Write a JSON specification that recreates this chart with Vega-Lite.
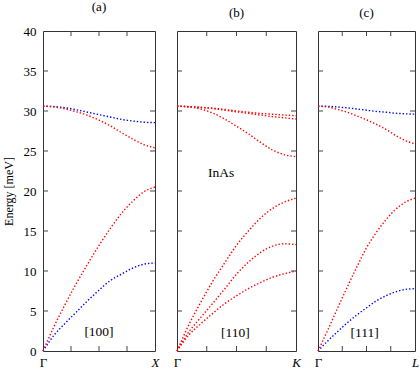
{
  "$schema": "https://vega.github.io/schema/vega-lite/v6.json",
  "padding": {"left": 1, "top": 0, "right": 0, "bottom": 0},
  "background": "white",
  "spacing": 22,
  "bounds": "flush",
  "config": {
    "font": "Liberation Serif",
    "view": {"stroke": "#333", "strokeWidth": 1},
    "axis": {
      "domain": false, "grid": false, "ticks": false,
      "labelFont": "Liberation Serif", "labelFontSize": 13, "labelColor": "#000",
      "titleFont": "Liberation Serif", "titleFontSize": 12, "titleFontWeight": "normal", "titleColor": "#000",
      "labelOverlap": false, "labelFlush": false
    },
    "rule": {"color": "#444", "strokeWidth": 1},
    "title": {"font": "Liberation Serif", "fontSize": 13, "fontWeight": "normal", "anchor": "middle", "offset": 11}
  },
  "datasets": {
    "xt": [{"t":0.25},{"t":0.5},{"t":0.75}],
    "yt": [{"E":5},{"E":10},{"E":15},{"E":20},{"E":25},{"E":30},{"E":35}],
    "a": [
      {"b":"TA","c":"blue","t":0,"E":0},{"b":"TA","c":"blue","t":0.1,"E":2.0},{"b":"TA","c":"blue","t":0.2,"E":3.5},{"b":"TA","c":"blue","t":0.3,"E":4.9},{"b":"TA","c":"blue","t":0.4,"E":6.3},{"b":"TA","c":"blue","t":0.5,"E":7.6},{"b":"TA","c":"blue","t":0.6,"E":8.8},{"b":"TA","c":"blue","t":0.7,"E":9.6},{"b":"TA","c":"blue","t":0.8,"E":10.35},{"b":"TA","c":"blue","t":0.9,"E":10.85},{"b":"TA","c":"blue","t":1,"E":11.0},
      {"b":"LA","c":"red","t":0,"E":0},{"b":"LA","c":"red","t":0.1,"E":3.1},{"b":"LA","c":"red","t":0.2,"E":5.9},{"b":"LA","c":"red","t":0.3,"E":8.5},{"b":"LA","c":"red","t":0.4,"E":10.9},{"b":"LA","c":"red","t":0.5,"E":13.2},{"b":"LA","c":"red","t":0.6,"E":15.3},{"b":"LA","c":"red","t":0.7,"E":17.2},{"b":"LA","c":"red","t":0.8,"E":18.7},{"b":"LA","c":"red","t":0.9,"E":19.9},{"b":"LA","c":"red","t":1,"E":20.5},
      {"b":"TO","c":"blue","t":0,"E":30.6},{"b":"TO","c":"blue","t":0.1,"E":30.55},{"b":"TO","c":"blue","t":0.2,"E":30.4},{"b":"TO","c":"blue","t":0.3,"E":30.15},{"b":"TO","c":"blue","t":0.4,"E":29.85},{"b":"TO","c":"blue","t":0.5,"E":29.55},{"b":"TO","c":"blue","t":0.6,"E":29.25},{"b":"TO","c":"blue","t":0.7,"E":28.95},{"b":"TO","c":"blue","t":0.8,"E":28.75},{"b":"TO","c":"blue","t":0.9,"E":28.6},{"b":"TO","c":"blue","t":1,"E":28.55},
      {"b":"LO","c":"red","t":0,"E":30.6},{"b":"LO","c":"red","t":0.1,"E":30.5},{"b":"LO","c":"red","t":0.2,"E":30.25},{"b":"LO","c":"red","t":0.3,"E":29.9},{"b":"LO","c":"red","t":0.4,"E":29.45},{"b":"LO","c":"red","t":0.5,"E":28.85},{"b":"LO","c":"red","t":0.6,"E":28.15},{"b":"LO","c":"red","t":0.7,"E":27.3},{"b":"LO","c":"red","t":0.8,"E":26.5},{"b":"LO","c":"red","t":0.9,"E":25.8},{"b":"LO","c":"red","t":1,"E":25.4}
    ],
    "b": [
      {"b":"TA1","c":"red","t":0,"E":0},{"b":"TA1","c":"red","t":0.1,"E":2.0},{"b":"TA1","c":"red","t":0.2,"E":3.4},{"b":"TA1","c":"red","t":0.3,"E":4.7},{"b":"TA1","c":"red","t":0.4,"E":5.9},{"b":"TA1","c":"red","t":0.5,"E":6.9},{"b":"TA1","c":"red","t":0.6,"E":7.8},{"b":"TA1","c":"red","t":0.7,"E":8.55},{"b":"TA1","c":"red","t":0.8,"E":9.2},{"b":"TA1","c":"red","t":0.9,"E":9.65},{"b":"TA1","c":"red","t":1,"E":10.0},
      {"b":"TA2","c":"red","t":0,"E":0},{"b":"TA2","c":"red","t":0.1,"E":2.4},{"b":"TA2","c":"red","t":0.2,"E":4.2},{"b":"TA2","c":"red","t":0.3,"E":5.95},{"b":"TA2","c":"red","t":0.4,"E":7.75},{"b":"TA2","c":"red","t":0.5,"E":9.6},{"b":"TA2","c":"red","t":0.6,"E":11.1},{"b":"TA2","c":"red","t":0.7,"E":12.3},{"b":"TA2","c":"red","t":0.8,"E":13.1},{"b":"TA2","c":"red","t":0.9,"E":13.4},{"b":"TA2","c":"red","t":1,"E":13.3},
      {"b":"LA","c":"red","t":0,"E":0},{"b":"LA","c":"red","t":0.1,"E":3.3},{"b":"LA","c":"red","t":0.2,"E":6.1},{"b":"LA","c":"red","t":0.3,"E":8.7},{"b":"LA","c":"red","t":0.4,"E":11.0},{"b":"LA","c":"red","t":0.5,"E":13.2},{"b":"LA","c":"red","t":0.6,"E":15.0},{"b":"LA","c":"red","t":0.7,"E":16.6},{"b":"LA","c":"red","t":0.8,"E":17.8},{"b":"LA","c":"red","t":0.9,"E":18.6},{"b":"LA","c":"red","t":1,"E":19.1},
      {"b":"TO1","c":"red","t":0,"E":30.6},{"b":"TO1","c":"red","t":0.1,"E":30.55},{"b":"TO1","c":"red","t":0.2,"E":30.45},{"b":"TO1","c":"red","t":0.3,"E":30.35},{"b":"TO1","c":"red","t":0.4,"E":30.2},{"b":"TO1","c":"red","t":0.5,"E":30.0},{"b":"TO1","c":"red","t":0.6,"E":29.85},{"b":"TO1","c":"red","t":0.7,"E":29.7},{"b":"TO1","c":"red","t":0.8,"E":29.6},{"b":"TO1","c":"red","t":0.9,"E":29.5},{"b":"TO1","c":"red","t":1,"E":29.4},
      {"b":"TO2","c":"red","t":0,"E":30.6},{"b":"TO2","c":"red","t":0.1,"E":30.55},{"b":"TO2","c":"red","t":0.2,"E":30.45},{"b":"TO2","c":"red","t":0.3,"E":30.3},{"b":"TO2","c":"red","t":0.4,"E":30.1},{"b":"TO2","c":"red","t":0.5,"E":29.9},{"b":"TO2","c":"red","t":0.6,"E":29.7},{"b":"TO2","c":"red","t":0.7,"E":29.5},{"b":"TO2","c":"red","t":0.8,"E":29.3},{"b":"TO2","c":"red","t":0.9,"E":29.15},{"b":"TO2","c":"red","t":1,"E":29.0},
      {"b":"LO","c":"red","t":0,"E":30.6},{"b":"LO","c":"red","t":0.1,"E":30.5},{"b":"LO","c":"red","t":0.2,"E":30.25},{"b":"LO","c":"red","t":0.3,"E":29.75},{"b":"LO","c":"red","t":0.4,"E":29.0},{"b":"LO","c":"red","t":0.5,"E":28.1},{"b":"LO","c":"red","t":0.6,"E":27.15},{"b":"LO","c":"red","t":0.7,"E":26.1},{"b":"LO","c":"red","t":0.8,"E":25.15},{"b":"LO","c":"red","t":0.9,"E":24.55},{"b":"LO","c":"red","t":1,"E":24.3}
    ],
    "c": [
      {"b":"TA","c":"blue","t":0,"E":0},{"b":"TA","c":"blue","t":0.1,"E":1.25},{"b":"TA","c":"blue","t":0.2,"E":2.4},{"b":"TA","c":"blue","t":0.3,"E":3.5},{"b":"TA","c":"blue","t":0.4,"E":4.5},{"b":"TA","c":"blue","t":0.5,"E":5.4},{"b":"TA","c":"blue","t":0.6,"E":6.25},{"b":"TA","c":"blue","t":0.7,"E":6.9},{"b":"TA","c":"blue","t":0.8,"E":7.4},{"b":"TA","c":"blue","t":0.9,"E":7.7},{"b":"TA","c":"blue","t":1,"E":7.8},
      {"b":"LA","c":"red","t":0,"E":0},{"b":"LA","c":"red","t":0.1,"E":2.6},{"b":"LA","c":"red","t":0.2,"E":5.3},{"b":"LA","c":"red","t":0.3,"E":7.95},{"b":"LA","c":"red","t":0.4,"E":10.5},{"b":"LA","c":"red","t":0.5,"E":12.9},{"b":"LA","c":"red","t":0.6,"E":14.8},{"b":"LA","c":"red","t":0.7,"E":16.4},{"b":"LA","c":"red","t":0.8,"E":17.7},{"b":"LA","c":"red","t":0.9,"E":18.6},{"b":"LA","c":"red","t":1,"E":19.1},
      {"b":"TO","c":"blue","t":0,"E":30.6},{"b":"TO","c":"blue","t":0.1,"E":30.58},{"b":"TO","c":"blue","t":0.2,"E":30.5},{"b":"TO","c":"blue","t":0.3,"E":30.4},{"b":"TO","c":"blue","t":0.4,"E":30.25},{"b":"TO","c":"blue","t":0.5,"E":30.1},{"b":"TO","c":"blue","t":0.6,"E":29.95},{"b":"TO","c":"blue","t":0.7,"E":29.85},{"b":"TO","c":"blue","t":0.8,"E":29.72},{"b":"TO","c":"blue","t":0.9,"E":29.65},{"b":"TO","c":"blue","t":1,"E":29.6},
      {"b":"LO","c":"red","t":0,"E":30.6},{"b":"LO","c":"red","t":0.1,"E":30.5},{"b":"LO","c":"red","t":0.2,"E":30.2},{"b":"LO","c":"red","t":0.3,"E":29.85},{"b":"LO","c":"red","t":0.4,"E":29.4},{"b":"LO","c":"red","t":0.5,"E":28.9},{"b":"LO","c":"red","t":0.6,"E":28.35},{"b":"LO","c":"red","t":0.7,"E":27.7},{"b":"LO","c":"red","t":0.8,"E":26.95},{"b":"LO","c":"red","t":0.9,"E":26.3},{"b":"LO","c":"red","t":1,"E":25.9}
    ]
  },
  "hconcat": [
    {
      "width": 112, "height": 320,
      "title": {"text": "(a)"},
      "resolve": {"axis": {"x": "independent", "y": "independent"}},
      "layer": [
        {
          "data": {"name": "a"},
          "mark": {"type": "line", "strokeDash": [1.4, 2], "strokeWidth": 1.4, "interpolate": "monotone"},
          "encoding": {
            "x": {"field": "t", "type": "quantitative", "scale": {"domain": [0, 1], "nice": false},
                  "axis": {"orient": "bottom", "title": null, "values": [0, 1], "labelPadding": 5,
                           "labelExpr": "datum.value == 0 ? 'Γ' : 'X'",
                           "labelFontStyle": {"condition": {"test": "datum.value == 1", "value": "italic"}, "value": "normal"}}},
            "y": {"field": "E", "type": "quantitative", "scale": {"domain": [0, 40], "nice": false},
                  "axis": {"orient": "left", "title": "Energy [meV]", "values": [0, 5, 10, 15, 20, 25, 30, 35, 40], "labelPadding": 7, "titlePadding": 8}},
            "color": {"field": "c", "type": "nominal", "scale": {"domain": ["red", "blue"], "range": ["#ff0000", "#0000ff"]}, "legend": null},
            "detail": {"field": "b"}
          }
        },
        {"data": {"name": "xt"}, "mark": "rule",
         "encoding": {"x": {"field": "t", "type": "quantitative", "axis": null}, "y": {"datum": 0, "type": "quantitative", "axis": null}, "y2": {"datum": 0.625}}},
        {"data": {"name": "xt"}, "mark": "rule",
         "encoding": {"x": {"field": "t", "type": "quantitative", "axis": null}, "y": {"datum": 40, "type": "quantitative", "axis": null}, "y2": {"datum": 39.375}}},
        {"data": {"name": "yt"}, "mark": "rule",
         "encoding": {"y": {"field": "E", "type": "quantitative", "axis": null}, "x": {"datum": 0, "type": "quantitative", "axis": null}, "x2": {"datum": 0.0446}}},
        {"data": {"name": "yt"}, "mark": "rule",
         "encoding": {"y": {"field": "E", "type": "quantitative", "axis": null}, "x": {"datum": 1, "type": "quantitative", "axis": null}, "x2": {"datum": 0.9554}}},
        {
          "data": {"values": [{"t": 0.5, "E": 2.4, "label": "[100]"}]},
          "mark": {"type": "text", "font": "Liberation Serif", "fontSize": 13.5},
          "encoding": {
            "x": {"field": "t", "type": "quantitative", "axis": null},
            "y": {"field": "E", "type": "quantitative", "axis": null},
            "text": {"field": "label"}
          }
        }
      ]
    },
    {
      "width": 119, "height": 320,
      "title": {"text": "(b)"},
      "resolve": {"axis": {"x": "independent", "y": "independent"}},
      "layer": [
        {
          "data": {"name": "b"},
          "mark": {"type": "line", "strokeDash": [1.4, 2], "strokeWidth": 1.4, "interpolate": "monotone"},
          "encoding": {
            "x": {"field": "t", "type": "quantitative", "scale": {"domain": [0, 1], "nice": false},
                  "axis": {"orient": "bottom", "title": null, "values": [0, 1], "labelPadding": 5,
                           "labelExpr": "datum.value == 0 ? 'Γ' : 'K'",
                           "labelFontStyle": {"condition": {"test": "datum.value == 1", "value": "italic"}, "value": "normal"}}},
            "y": {"field": "E", "type": "quantitative", "scale": {"domain": [0, 40], "nice": false}, "axis": null},
            "color": {"field": "c", "type": "nominal", "scale": {"domain": ["red", "blue"], "range": ["#ff0000", "#0000ff"]}, "legend": null},
            "detail": {"field": "b"}
          }
        },
        {"data": {"name": "xt"}, "mark": "rule",
         "encoding": {"x": {"field": "t", "type": "quantitative", "axis": null}, "y": {"datum": 0, "type": "quantitative", "axis": null}, "y2": {"datum": 0.625}}},
        {"data": {"name": "xt"}, "mark": "rule",
         "encoding": {"x": {"field": "t", "type": "quantitative", "axis": null}, "y": {"datum": 40, "type": "quantitative", "axis": null}, "y2": {"datum": 39.375}}},
        {"data": {"name": "yt"}, "mark": "rule",
         "encoding": {"y": {"field": "E", "type": "quantitative", "axis": null}, "x": {"datum": 0, "type": "quantitative", "axis": null}, "x2": {"datum": 0.042}}},
        {"data": {"name": "yt"}, "mark": "rule",
         "encoding": {"y": {"field": "E", "type": "quantitative", "axis": null}, "x": {"datum": 1, "type": "quantitative", "axis": null}, "x2": {"datum": 0.958}}},
        {
          "data": {"values": [{"t": 0.49, "E": 2.3, "label": "[110]"}, {"t": 0.37, "E": 22.2, "label": "InAs"}]},
          "mark": {"type": "text", "font": "Liberation Serif", "fontSize": 13.5},
          "encoding": {
            "x": {"field": "t", "type": "quantitative", "axis": null},
            "y": {"field": "E", "type": "quantitative", "axis": null},
            "text": {"field": "label"}
          }
        }
      ]
    },
    {
      "width": 97, "height": 320,
      "title": {"text": "(c)"},
      "resolve": {"axis": {"x": "independent", "y": "independent"}},
      "layer": [
        {
          "data": {"name": "c"},
          "mark": {"type": "line", "strokeDash": [1.4, 2], "strokeWidth": 1.4, "interpolate": "monotone"},
          "encoding": {
            "x": {"field": "t", "type": "quantitative", "scale": {"domain": [0, 1], "nice": false},
                  "axis": {"orient": "bottom", "title": null, "values": [0, 1], "labelPadding": 5,
                           "labelExpr": "datum.value == 0 ? 'Γ' : 'L'",
                           "labelFontStyle": {"condition": {"test": "datum.value == 1", "value": "italic"}, "value": "normal"}}},
            "y": {"field": "E", "type": "quantitative", "scale": {"domain": [0, 40], "nice": false}, "axis": null},
            "color": {"field": "c", "type": "nominal", "scale": {"domain": ["red", "blue"], "range": ["#ff0000", "#0000ff"]}, "legend": null},
            "detail": {"field": "b"}
          }
        },
        {"data": {"name": "xt"}, "mark": "rule",
         "encoding": {"x": {"field": "t", "type": "quantitative", "axis": null}, "y": {"datum": 0, "type": "quantitative", "axis": null}, "y2": {"datum": 0.625}}},
        {"data": {"name": "xt"}, "mark": "rule",
         "encoding": {"x": {"field": "t", "type": "quantitative", "axis": null}, "y": {"datum": 40, "type": "quantitative", "axis": null}, "y2": {"datum": 39.375}}},
        {"data": {"name": "yt"}, "mark": "rule",
         "encoding": {"y": {"field": "E", "type": "quantitative", "axis": null}, "x": {"datum": 0, "type": "quantitative", "axis": null}, "x2": {"datum": 0.0515}}},
        {"data": {"name": "yt"}, "mark": "rule",
         "encoding": {"y": {"field": "E", "type": "quantitative", "axis": null}, "x": {"datum": 1, "type": "quantitative", "axis": null}, "x2": {"datum": 0.9485}}},
        {
          "data": {"values": [{"t": 0.48, "E": 2.3, "label": "[111]"}]},
          "mark": {"type": "text", "font": "Liberation Serif", "fontSize": 13.5},
          "encoding": {
            "x": {"field": "t", "type": "quantitative", "axis": null},
            "y": {"field": "E", "type": "quantitative", "axis": null},
            "text": {"field": "label"}
          }
        }
      ]
    }
  ]
}
